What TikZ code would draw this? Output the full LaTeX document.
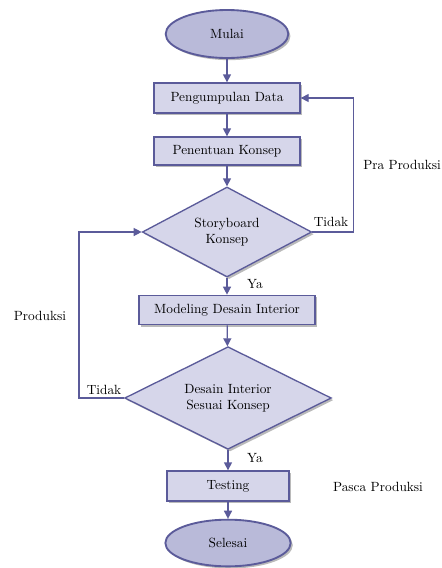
\documentclass[tikz,border=0pt]{standalone}
\usetikzlibrary{shapes.geometric,shadows,arrows.meta}

\definecolor{garis}{HTML}{5B5B9A}
\definecolor{isikotak}{HTML}{D6D6EA}
\definecolor{isielips}{HTML}{B9BAD9}

\begin{document}
\begin{tikzpicture}[x=0.75pt, y=-0.75pt, font=\normalsize,
		bayang/.style={drop shadow={shadow xshift=1.6pt, shadow yshift=-1.6pt, fill=black!45, opacity=.6}},
		terminal/.style={ellipse, draw=garis, line width=1.4pt, fill=isielips, bayang, inner sep=0pt},
		proses/.style={rectangle, draw=garis, line width=1pt, fill=isikotak, bayang, inner sep=0pt},
		keputusan/.style={diamond, aspect=2, draw=garis, line width=1pt, fill=isikotak, bayang, inner sep=0pt, align=center},
		panah/.style={draw=garis, line width=1pt, -{Triangle[length=6pt,width=6pt]}}]
		\useasboundingbox (0,0) rectangle (442,568);
		\node[terminal, minimum width=92pt, minimum height=36pt] (mulai) at (227,34) {Mulai};
		\node[proses, minimum width=109.5pt, minimum height=22.5pt] (kumpul) at (227,98) {Pengumpulan Data};
		\node[proses, minimum width=109.5pt, minimum height=21pt] (tentu) at (227,151) {Penentuan Konsep};
		\node[keputusan, minimum width=127pt, minimum height=67.5pt] (story) at (227,232) {Storyboard\\Konsep};
		\node[proses, minimum width=132pt, minimum height=22pt] (model) at (227,310) {Modeling Desain Interior};
		\node[keputusan, minimum width=155pt, minimum height=77pt] (sesuai) at (228,398) {Desain Interior\\Sesuai Konsep};
		\node[proses, minimum width=91.5pt, minimum height=22.5pt] (testing) at (228,486) {Testing};
		\node[terminal, minimum width=94pt, minimum height=35pt] (selesai) at (228,543) {Selesai};
		% label
		\node (tidakA) at (331,222) {Tidak};
		\node (yaA) at (255,284) {Ya};
		\node (tidakB) at (104,390) {Tidak};
		\node (yaB) at (255,458) {Ya};
		\node (pra) [anchor=west, inner sep=0pt] at (363,165) {Pra Produksi};
		\node (prod) at (40,316) {Produksi};
		\node (pasca) at (378,487) {Pasca Produksi};
		% alur
		\draw[panah] (mulai) -- (kumpul);
		\draw[panah] (kumpul) -- (tentu);
		\draw[panah] (tentu) -- (story);
		\draw[panah] (story.east) -- ++(41,0) |- (kumpul.east);
		\draw[panah] (story) -- (model);
		\draw[panah] (model) -- (sesuai);
		\draw[panah] (sesuai.west) -- ++(-45,0) |- (story.west);
		\draw[panah] (sesuai) -- (testing);
		\draw[panah] (testing) -- (selesai);
	\end{tikzpicture}
\end{document}
